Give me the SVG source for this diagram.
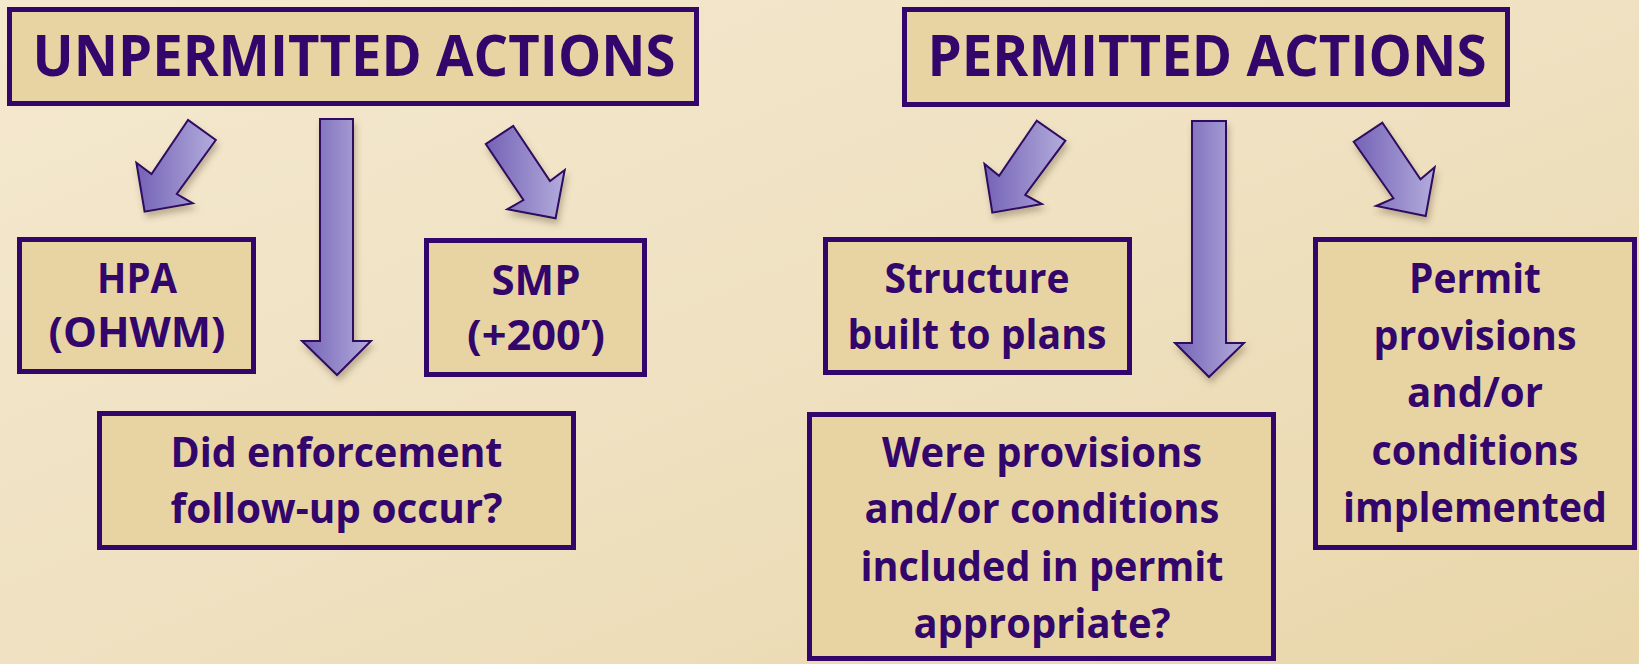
<svg xmlns="http://www.w3.org/2000/svg" width="1639" height="664" viewBox="0 0 1639 664">
<defs>
<linearGradient id="bg" x1="0" y1="0" x2="1" y2="1">
<stop offset="0" stop-color="#f4e8cf"/>
<stop offset="0.5" stop-color="#efe1c1"/>
<stop offset="1" stop-color="#e9d6aa"/>
</linearGradient>
<linearGradient id="ar" x1="0" y1="0" x2="1" y2="0">
<stop offset="0" stop-color="#7462b6"/>
<stop offset="1" stop-color="#b3acdc"/>
</linearGradient>
<filter id="sh" x="-30%" y="-30%" width="160%" height="160%">
<feDropShadow dx="2" dy="5" stdDeviation="3" flood-color="#5a4a30" flood-opacity="0.35"/>
</filter>
<style>
.box{fill:#e8d4a3;stroke:#33066b;stroke-width:5}
.arrow{fill:url(#ar);stroke:#2e0860;stroke-width:2;stroke-linejoin:miter;filter:url(#sh)}
.t{font-family:"Open Sans","Noto Sans","Liberation Sans",sans-serif;font-weight:bold;fill:#33066b;text-anchor:middle}
.title{font-size:57px}
.body{font-size:42px}
</style>
</defs>
<rect x="0" y="0" width="1639" height="664" fill="url(#bg)"/>

<g id="connectors">
<polygon class="arrow" points="188,120 151.5,174 136.4,162.7 144.6,211.7 192.8,203.3 176.8,194 215.8,140"/>
<polygon class="arrow" points="320,119 353,119 353,341 371,341 337,375 302,341 320,341"/>
<polygon class="arrow" points="513.3,126 550,181 564.7,170 555.6,218.3 507.3,209.3 523.4,200 485.8,144"/>
<polygon class="arrow" points="1036.7,120.7 999.1,175.7 984.5,164 992.3,212.7 1041.9,204 1025.2,195 1065.4,140.7"/>
<polygon class="arrow" points="1192,121 1226,121 1226,343 1244,343 1209,377 1175,343 1192,343"/>
<polygon class="arrow" points="1382.4,122.7 1420.5,179.3 1434.6,167.3 1425.7,216 1376.1,206 1393.4,198.3 1353.7,141.7"/>
</g>

<g id="unpermitted">
<rect class="box" x="9.5" y="9.5" width="687" height="94"/>
<text class="t title" x="354" y="76" textLength="643" lengthAdjust="spacingAndGlyphs">UNPERMITTED ACTIONS</text>
</g>

<g id="permitted">
<rect class="box" x="904.5" y="9.5" width="603" height="95"/>
<text class="t title" x="1207" y="76" textLength="559" lengthAdjust="spacingAndGlyphs">PERMITTED ACTIONS</text>
</g>

<g id="hpa">
<rect class="box" x="19.5" y="239.5" width="234" height="132"/>
<text class="t body" x="137" y="293" textLength="80" lengthAdjust="spacingAndGlyphs">HPA</text>
<text class="t body" x="137" y="347" textLength="177" lengthAdjust="spacingAndGlyphs">(OHWM)</text>
</g>

<g id="smp">
<rect class="box" x="426.5" y="240.5" width="218" height="134"/>
<text class="t body" x="536" y="295" textLength="89" lengthAdjust="spacingAndGlyphs">SMP</text>
<text class="t body" x="536" y="350" textLength="138" lengthAdjust="spacingAndGlyphs">(+200’)</text>
</g>

<g id="enforcement">
<rect class="box" x="99.5" y="413.5" width="474" height="134"/>
<text class="t body" x="336.5" y="467" textLength="332" lengthAdjust="spacingAndGlyphs">Did enforcement</text>
<text class="t body" x="336.5" y="523" textLength="332" lengthAdjust="spacingAndGlyphs">follow-up occur?</text>
</g>

<g id="structure">
<rect class="box" x="825.5" y="239.5" width="304" height="133"/>
<text class="t body" x="977" y="293" textLength="185" lengthAdjust="spacingAndGlyphs">Structure</text>
<text class="t body" x="977" y="349" textLength="259" lengthAdjust="spacingAndGlyphs">built to plans</text>
</g>

<g id="were">
<rect class="box" x="809.5" y="414.5" width="464" height="244"/>
<text class="t body" x="1042" y="467" textLength="320" lengthAdjust="spacingAndGlyphs">Were provisions</text>
<text class="t body" x="1042" y="523" textLength="355" lengthAdjust="spacingAndGlyphs">and/or conditions</text>
<text class="t body" x="1042" y="581" textLength="363" lengthAdjust="spacingAndGlyphs">included in permit</text>
<text class="t body" x="1042" y="638" textLength="257" lengthAdjust="spacingAndGlyphs">appropriate?</text>
</g>

<g id="implemented">
<rect class="box" x="1315.5" y="239.5" width="319" height="308"/>
<text class="t body" x="1475" y="293" textLength="132" lengthAdjust="spacingAndGlyphs">Permit</text>
<text class="t body" x="1475" y="350" textLength="203" lengthAdjust="spacingAndGlyphs">provisions</text>
<text class="t body" x="1475" y="407" textLength="136" lengthAdjust="spacingAndGlyphs">and/or</text>
<text class="t body" x="1475" y="464.5" textLength="207" lengthAdjust="spacingAndGlyphs">conditions</text>
<text class="t body" x="1475" y="521.5" textLength="264" lengthAdjust="spacingAndGlyphs">implemented</text>
</g>
</svg>
